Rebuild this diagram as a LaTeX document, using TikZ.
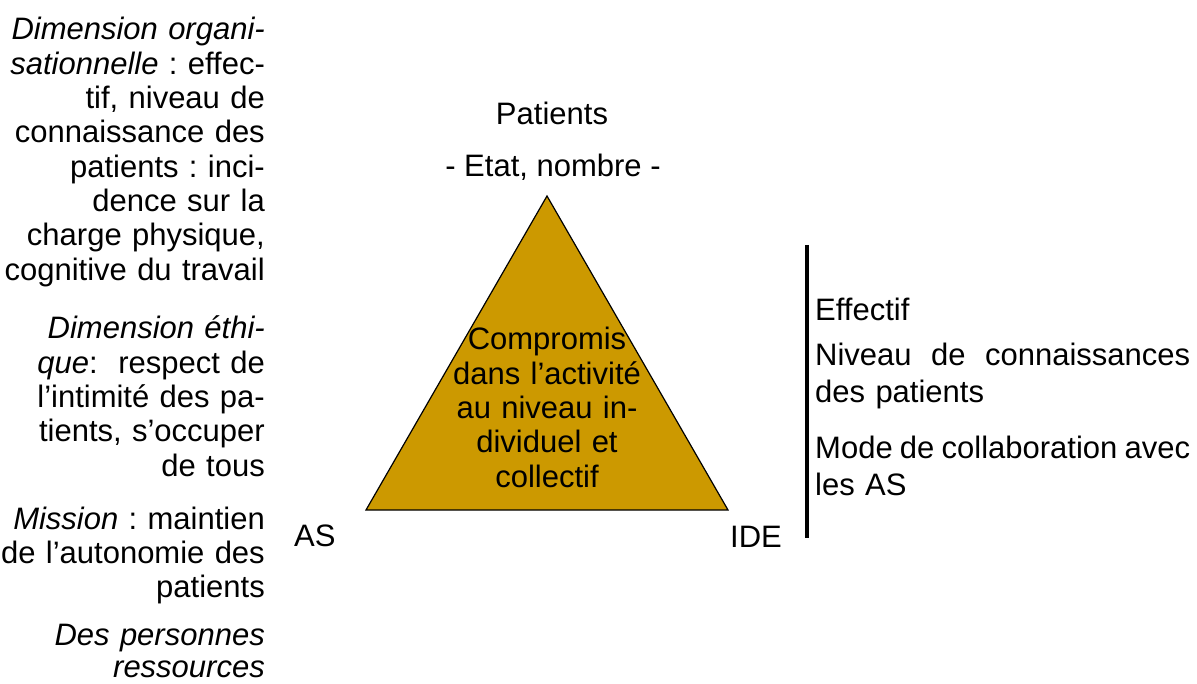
\documentclass[tikz,border=0pt]{standalone}
\usepackage{fontspec}
\setmainfont{Liberation Sans}
\frenchspacing
\definecolor{gold}{HTML}{CC9900}
\begin{document}
\begin{tikzpicture}[x=1pt,y=-1pt,
  txt/.style={inner sep=0pt, font=\fontsize{31}{34.3}\selectfont},
  lefttxt/.style={txt, text width=270pt, align=right, anchor=base east},
  righttxt/.style={txt, text width=375pt, align=left, anchor=base west, font=\fontsize{31}{37}\selectfont},
  ctxt/.style={txt, anchor=base, align=center},
  tri/.style={draw=black, line width=1.2pt, fill=gold, line join=miter},
  bar/.style={draw=black, line width=4pt}]
\useasboundingbox (0,0) rectangle (1197,684);
% left column
\node[lefttxt] (p1) at (265,40) {\textit{Dimension organi-}\\\textit{sationnelle} : effec-\\tif, niveau de\\connaissance des\\patients : inci-\\dence sur la\\charge physique,\\cognitive du travail};
\node[lefttxt] (p2) at (265,339) {\textit{Dimension éthi-}\\\textit{que}:~ respect de\\l’intimité des pa-\\tients, s’occuper\\de tous};
\node[lefttxt] (p3) at (265,529) {\textit{Mission} : maintien\\de l’autonomie des\\patients};
\node[lefttxt] (p4) at (265,645) {\textit{Des personnes}\\[-2pt]\textit{ressources}};
% triangle
\coordinate (apex) at (547,196);
\coordinate (bl) at (366,510);
\coordinate (br) at (728,510);
\draw[tri] (apex) -- (br) -- (bl) -- cycle;
\node[ctxt, text width=220pt] (comp) at (547,350) {Compromis\\dans l’activité\\au niveau in-\\dividuel et\\collectif};
\node[ctxt] (pat) at (552,125) {Patients};
\node[ctxt] (etat) at (553,177) {- Etat, nombre -};
\node[txt, anchor=base west] (as) at (294,546) {AS};
\node[txt, anchor=base west] (ide) at (730,547) {IDE};
% right bar and text
\coordinate (bartop) at (807,245);
\coordinate (barbot) at (807,538);
\draw[bar] (bartop) -- (barbot);
\node[righttxt] (r1) at (815,321) {Effectif};
\node[righttxt] (r2) at (815,366) {Niveau\hfill de\hfill connaissances\\des patients};
\node[righttxt] (r3) at (815,458) {\makebox[375pt][s]{\spaceskip=.15em plus 1fil\relax Mode de collaboration avec}\\les AS};
\end{tikzpicture}
\end{document}
